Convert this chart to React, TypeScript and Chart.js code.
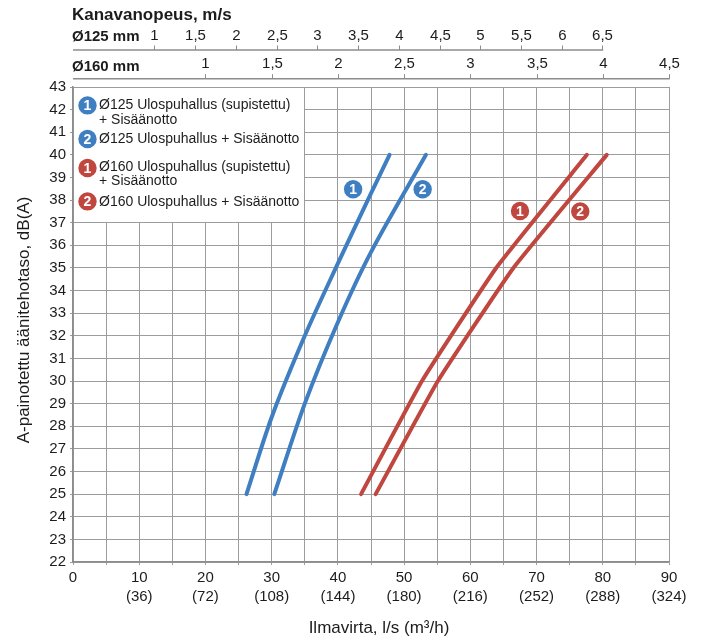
import React, { useEffect, useRef } from 'react';
import { Chart, registerables } from 'chart.js';

Chart.register(...registerables);

const FONT = '"Liberation Sans", Arial, Helvetica, sans-serif';
const BLUE = '#3f7fc1';
const RED = '#c0473f';
const TEXT = '#1c1c1c';
const GRID = '#9c9c9c';
const AXIS = '#8c8c8c';

// Series: flow (l/s) vs sound level dB(A)
const blue1Flow = [26.2, 30, 35, 40, 45, 47.8];
const blue1Level = [25, 28.4, 32.0, 35.2, 38.3, 40];
const blue2Flow = [30.4, 35, 40, 45, 53.3];
const blue2Level = [25, 29.0, 32.6, 35.7, 40];
const red1Flow = [43.5, 52.7, 63.9, 77.6];
const red1Level = [25, 30, 35, 40];
const red2Flow = [45.7, 55.1, 66.5, 80.6];
const red2Level = [25, 30, 35, 40];

// Axis tick labels
const flowTickValues = [0, 10, 20, 30, 40, 50, 60, 70, 80, 90];
const flowTickLabels = ['0', '10', '20', '30', '40', '50', '60', '70', '80', '90'];
const m3hTickLabels = ['', '(36)', '(72)', '(108)', '(144)', '(180)', '(216)', '(252)', '(288)', '(324)'];

const speed125Ticks = [1, 1.5, 2, 2.5, 3, 3.5, 4, 4.5, 5, 5.5, 6, 6.5];
const speed160Ticks = [1, 1.5, 2, 2.5, 3, 3.5, 4, 4.5];
const flowPerMs125 = 12.3; // l/s per 1 m/s, Ø125
const flowPerMs160 = 20.0; // l/s per 1 m/s, Ø160

const legendNumbers = ['1', '2', '1', '2'];
const legendColors = [BLUE, BLUE, RED, RED];
const legendTexts = [
  ['Ø125 Ulospuhallus (supistettu)', '+ Sisäänotto'],
  ['Ø125 Ulospuhallus + Sisäänotto'],
  ['Ø160 Ulospuhallus (supistettu)', '+ Sisäänotto'],
  ['Ø160 Ulospuhallus + Sisäänotto'],
];

const badgeFlow = [42.3, 52.8, 67.5, 76.6];
const badgeLevel = [38.48, 38.48, 37.52, 37.5];

function drawBadge(ctx: CanvasRenderingContext2D, x: number, y: number, color: string, label: string) {
  ctx.save();
  ctx.fillStyle = color;
  ctx.beginPath();
  ctx.arc(x, y, 9.2, 0, Math.PI * 2);
  ctx.fill();
  ctx.fillStyle = '#ffffff';
  ctx.font = `bold 14px ${FONT}`;
  ctx.textAlign = 'center';
  ctx.textBaseline = 'middle';
  ctx.fillText(label, x, y + 1);
  ctx.restore();
}

const overlayPlugin = {
  id: 'overlay',
  beforeDatasetsDraw(chart: any) {
    const { ctx, chartArea, scales } = chart;
    const x1 = Math.floor(scales.x.getPixelForValue(35));
    const y1 = Math.floor(scales.y.getPixelForValue(37));
    ctx.save();
    ctx.fillStyle = '#ffffff';
    ctx.fillRect(chartArea.left + 1, chartArea.top + 1, x1 - chartArea.left - 1, y1 - chartArea.top - 1);
    ctx.restore();
  },
  afterDraw(chart: any) {
    const { ctx, chartArea, scales } = chart;
    const left = chartArea.left;
    const top = chartArea.top;

    // Legend
    const badgeDy = [18.4, 52, 81, 114.4];
    const textDy = [[17.7, 33.6], [52], [80, 94.6], [115]];
    ctx.save();
    for (let i = 0; i < legendTexts.length; i++) {
      drawBadge(ctx, left + 14.5, top + badgeDy[i], legendColors[i], legendNumbers[i]);
      ctx.fillStyle = TEXT;
      ctx.font = `14px ${FONT}`;
      ctx.textAlign = 'left';
      ctx.textBaseline = 'middle';
      legendTexts[i].forEach((t, j) => ctx.fillText(t, left + 26, top + textDy[i][j]));
    }
    ctx.restore();

    // Curve badges
    for (let i = 0; i < badgeFlow.length; i++) {
      drawBadge(ctx, scales.x.getPixelForValue(badgeFlow[i]), scales.y.getPixelForValue(badgeLevel[i]), legendColors[i], legendNumbers[i]);
    }

    // Top speed axes
    const drawSpeedAxis = (scale: any, ticks: number[], lineY: number, labelY: number, nameY: number, name: string) => {
      ctx.save();
      ctx.strokeStyle = AXIS;
      ctx.lineWidth = 1.5;
      ctx.beginPath();
      ctx.moveTo(left, lineY);
      ctx.lineTo(scale.getPixelForValue(ticks[ticks.length - 1]) + 0.75, lineY);
      ctx.stroke();
      ctx.lineWidth = 1;
      ctx.fillStyle = TEXT;
      ctx.font = `15px ${FONT}`;
      ctx.textAlign = 'center';
      ctx.textBaseline = 'middle';
      ticks.forEach((t) => {
        const px = Math.round(scale.getPixelForValue(t)) + 0.5;
        ctx.beginPath();
        ctx.moveTo(px, lineY);
        ctx.lineTo(px, lineY - 4.5);
        ctx.stroke();
        ctx.fillText(String(t).replace('.', ','), px, labelY);
      });
      ctx.font = `bold 15px ${FONT}`;
      ctx.textAlign = 'left';
      ctx.fillText(name, left - 1, nameY);
      ctx.restore();
    };
    drawSpeedAxis(scales.x125, speed125Ticks, 50, 35.5, 36.5, 'Ø125 mm');
    drawSpeedAxis(scales.x160, speed160Ticks, 78.7, 64, 66.5, 'Ø160 mm');

    ctx.save();
    ctx.fillStyle = TEXT;
    ctx.font = `bold 17px ${FONT}`;
    ctx.textAlign = 'left';
    ctx.textBaseline = 'middle';
    ctx.fillText('Kanavanopeus, m/s', left - 1, 15);

    // Axis titles
    ctx.font = `17px ${FONT}`;
    ctx.textAlign = 'center';
    ctx.fillText('Ilmavirta, l/s (m³/h)', 379, 628);
    ctx.translate(24, 320);
    ctx.rotate(-Math.PI / 2);
    ctx.fillText('A-painotettu äänitehotaso, dB(A)', 0, 0);
    ctx.restore();
  },
};

export default function App() {
  const ref = useRef<HTMLCanvasElement | null>(null);

  useEffect(() => {
    if (!ref.current) return;
    const mk = (flow: number[], level: number[], color: string, tension: number) => ({
      data: flow.map((x, i) => ({ x, y: level[i] })),
      borderColor: color,
      backgroundColor: color,
      borderWidth: 4,
      pointRadius: 0,
      tension,
      fill: false,
      borderCapStyle: 'round' as const,
      borderJoinStyle: 'round' as const,
    });
    const chart = new Chart(ref.current, {
      type: 'line',
      data: {
        datasets: [
          mk(blue1Flow, blue1Level, BLUE, 0.3),
          mk(blue2Flow, blue2Level, BLUE, 0.3),
          mk(red1Flow, red1Level, RED, 0.12),
          mk(red2Flow, red2Level, RED, 0.12),
        ],
      },
      options: {
        responsive: false,
        animation: false,
        layout: { padding: { top: 87, right: 33, left: 0, bottom: 0 } },
        plugins: { legend: { display: false }, tooltip: { enabled: false } },
        scales: {
          x: {
            type: 'linear',
            position: 'bottom',
            min: 0,
            max: 90,
            afterFit: (s: any) => { s.height = 77; },
            ticks: {
              stepSize: 5,
              autoSkip: false,
              maxRotation: 0,
              padding: 3,
              color: TEXT,
              font: { size: 15, family: FONT, lineHeight: 1.3 },
              callback: (value: any) => {
                const i = flowTickValues.indexOf(Number(value));
                if (i < 0) return '';
                return m3hTickLabels[i] ? [flowTickLabels[i], m3hTickLabels[i]] : flowTickLabels[i];
              },
            },
            grid: { color: GRID, lineWidth: 1, tickLength: 3 },
            border: { color: AXIS, width: 1.5 },
          },
          y: {
            type: 'linear',
            min: 22,
            max: 43,
            afterFit: (s: any) => { s.width = 73; },
            ticks: {
              stepSize: 1,
              autoSkip: false,
              padding: 4,
              color: TEXT,
              font: { size: 15, family: FONT },
            },
            grid: { color: GRID, lineWidth: 1, tickLength: 3 },
            border: { color: AXIS, width: 1.5 },
          },
          x125: { type: 'linear', display: false, position: 'top', min: 0, max: 90 / flowPerMs125 },
          x160: { type: 'linear', display: false, position: 'top', min: 0, max: 90 / flowPerMs160 },
        },
      } as any,
      plugins: [overlayPlugin],
    });
    return () => chart.destroy();
  }, []);

  return (
    <div style={{ position: 'fixed', left: 0, top: 0, width: 702, height: 639, background: '#fff' }}>
      <canvas ref={ref} width={702} height={639} style={{ width: 702, height: 639, display: 'block' }} />
    </div>
  );
}
